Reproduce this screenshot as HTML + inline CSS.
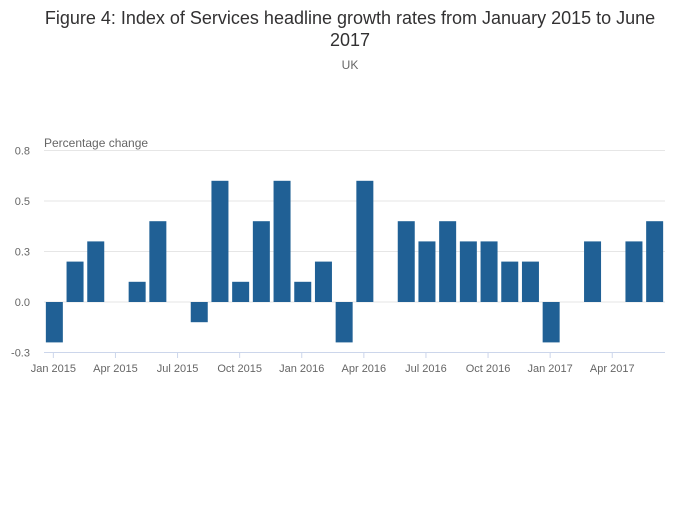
<!DOCTYPE html>
<html><head><meta charset="utf-8"><style>
body{margin:0;background:#fff;font-family:"Liberation Sans",sans-serif}
</style></head><body>
<svg width="700" height="502" viewBox="0 0 700 502">
<text x="350" y="24" text-anchor="middle" font-size="18" fill="#323132">Figure 4: Index of Services headline growth rates from January 2015 to June</text>
<text x="350" y="46" text-anchor="middle" font-size="18" fill="#323132">2017</text>
<text x="350" y="69" text-anchor="middle" font-size="12" fill="#666">UK</text>
<text x="44" y="147" font-size="12" fill="#666">Percentage change</text>
<g id="grid"></g><g id="bars"></g><g id="xaxis"></g>
</svg>
<script>
const months=["Jan","Feb","Mar","Apr","May","Jun","Jul","Aug","Sep","Oct","Nov","Dec"];
const categories=[];for(let y=2015;y<=2017;y++)for(let m=0;m<12;m++){if(y===2017&&m>5)break;categories.push(months[m]+" "+y);}
const values=[-0.2,0.2,0.3,0,0.1,0.4,0,-0.1,0.6,0.1,0.4,0.6,0.1,0.2,-0.2,0.6,0,0.4,0.3,0.4,0.3,0.3,0.2,0.2,-0.2,0,0.3,0,0.3,0.4];
const yTicks=[-0.25,0,0.25,0.5,0.75];
const yTickLabels=["-0.3","0.0","0.3","0.5","0.8"];
const x0=44,x1=665,band=(x1-x0)/categories.length;
const yScale=v=>302-v*202;
const xCenter=i=>x0+band*(i+0.5);
const NS="http://www.w3.org/2000/svg";
const grid=document.getElementById('grid'),bars=document.getElementById('bars'),xa=document.getElementById('xaxis');
yTicks.forEach((t,i)=>{
 const y=yScale(t);
 if(i>0){const l=document.createElementNS(NS,'line');
 l.setAttribute('x1',x0);l.setAttribute('x2',x1);l.setAttribute('y1',y);l.setAttribute('y2',y);l.setAttribute('stroke','#e6e6e6');
 
 
 grid.appendChild(l);}
 const tx=document.createElementNS(NS,'text');
 tx.setAttribute('x',30);tx.setAttribute('y',y+4);tx.setAttribute('text-anchor','end');tx.setAttribute('font-size','11');tx.setAttribute('fill','#666');
 tx.textContent=yTickLabels[i];
 
 
 grid.appendChild(tx);
});
values.forEach((v,i)=>{
 const r=document.createElementNS(NS,'rect');
 const ya=yScale(Math.max(v,0)),yb=yScale(Math.min(v,0));
 r.setAttribute('x',xCenter(i)-8.5);r.setAttribute('width',17);r.setAttribute('y',ya);r.setAttribute('height',yb-ya);r.setAttribute('fill','#206095');
 
 
 bars.appendChild(r);
});
const ax=document.createElementNS(NS,'line');
ax.setAttribute('x1',x0);ax.setAttribute('x2',x1);ax.setAttribute('y1',352.5);ax.setAttribute('y2',352.5);ax.setAttribute('stroke','#ccd6eb');


xa.appendChild(ax);
categories.forEach((c,i)=>{
 if(i%3)return;
 const x=xCenter(i)-1;
 const t=document.createElementNS(NS,'line');
 t.setAttribute('x1',x);t.setAttribute('x2',x);t.setAttribute('y1',352);t.setAttribute('y2',358);t.setAttribute('stroke','#ccd6eb');
 
 
 xa.appendChild(t);
 const tx=document.createElementNS(NS,'text');
 tx.setAttribute('x',x);tx.setAttribute('y',372);tx.setAttribute('text-anchor','middle');tx.setAttribute('font-size','11');tx.setAttribute('fill','#666');
 tx.textContent=c;
 
 
 xa.appendChild(tx);
});
</script>
</body></html>
